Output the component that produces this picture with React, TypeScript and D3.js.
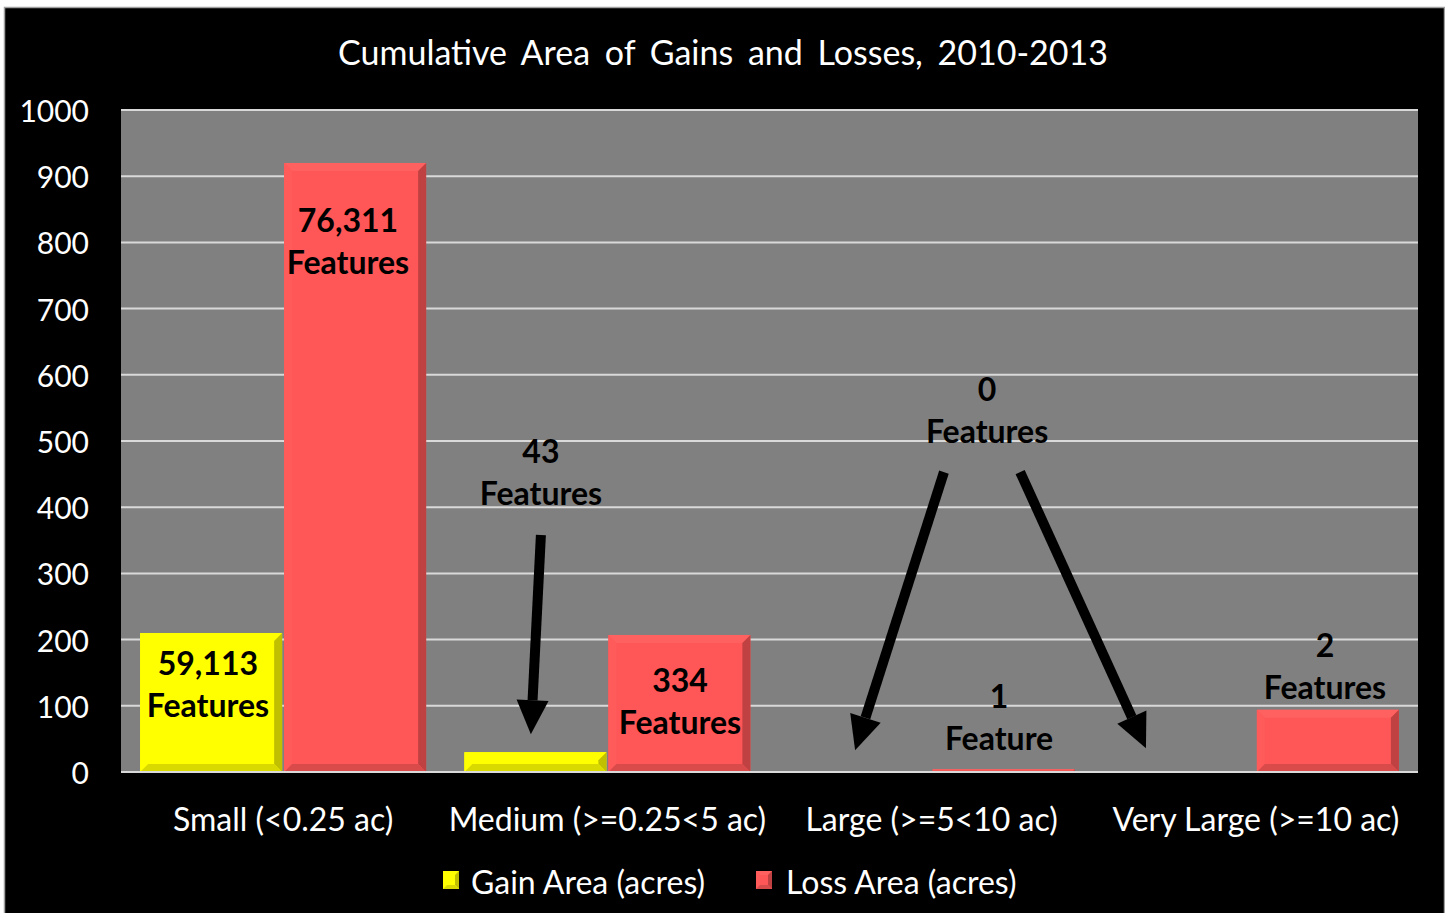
import React from "react";
import * as d3 from "d3";

const categories = ["Small (<0.25 ac)", "Medium (>=0.25<5 ac)", "Large (>=5<10 ac)", "Very Large (>=10 ac)"];
const gainArea = [210, 30, 0, 0];
const lossArea = [920, 207, 4, 94];
const yTicks = [0, 100, 200, 300, 400, 500, 600, 700, 800, 900, 1000];
const seriesNames = ["Gain Area (acres)", "Loss Area (acres)"];

// annotation labels: [category-index position, value position of first line, line1, line2]
const labelTexts = [
  { at: 0.268, v: 165, l1: "59,113", l2: "Features" },
  { at: 0.7, v: 834, l1: "76,311", l2: "Features" },
  { at: 1.295, v: 485, l1: "43", l2: "Features" },
  { at: 1.724, v: 140, l1: "334", l2: "Features" },
  { at: 2.671, v: 580, l1: "0", l2: "Features" },
  { at: 2.708, v: 116, l1: "1", l2: "Feature" },
  { at: 3.713, v: 192, l1: "2", l2: "Features" },
];
// arrows: from [index, value] to [index, value]
const arrowsFrom = [[1.295, 358], [2.538, 453], [2.773, 453]];
const arrowsTo = [[1.264, 57], [2.264, 33], [3.161, 36]];

const W = 1445, H = 913;
const plot = { left: 121, right: 1418, top: 110, bottom: 772 };
const FONT = "Lato, 'Open Sans', sans-serif";

function bevelBar(x: number, y: number, w: number, h: number, base: string, key: string, bev = 8) {
  if (h <= 0) return null;
  const b = Math.min(bev, h / 2, w / 2);
  const c = d3.color(base)!;
  const light = d3.rgb(c).brighter(0.3).toString();
  const lighter = d3.rgb(c).brighter(0.12).toString();
  const dark = d3.rgb(c).darker(0.8).toString();
  const darkish = d3.rgb(c).darker(0.45).toString();
  return (
    <g key={key}>
      <rect x={x} y={y} width={w} height={h} fill={base} />
      <polygon points={`${x},${y} ${x + w},${y} ${x + w - b},${y + b} ${x + b},${y + b}`} fill={light} />
      <polygon points={`${x},${y} ${x + b},${y + b} ${x + b},${y + h - b} ${x},${y + h}`} fill={lighter} />
      <polygon points={`${x + w},${y} ${x + w},${y + h} ${x + w - b},${y + h - b} ${x + w - b},${y + b}`} fill={dark} />
      <polygon points={`${x},${y + h} ${x + w},${y + h} ${x + w - b},${y + h - b} ${x + b},${y + h - b}`} fill={darkish} />
    </g>
  );
}

export default function App() {
  const y = d3.scaleLinear().domain([0, 1000]).range([plot.bottom, plot.top]);
  const xc = d3.scaleBand<string>().domain(categories).range([plot.left, plot.right]).paddingInner(0).paddingOuter(0);
  const xi = d3.scaleLinear().domain([0, 4]).range([plot.left, plot.right]);
  const bw = xc.bandwidth();
  const barW = 142;
  const gap = 2;
  const off = (bw - 2 * barW - gap) / 2;
  const gainCol = "#ffff00";
  const lossCol = "#ff5757";

  return (
    <svg width={W} height={H} style={{ position: "absolute", left: 0, top: 0, display: "block" }}>
      <rect x={0} y={0} width={W} height={H} fill="#ffffff" />
      <rect x={4.5} y={7.5} width={W - 5} height={H} fill="#000000" stroke="#a0a0a0" strokeWidth={1.5} />
      <text x={723} y={51} fill="#fff" fontFamily={FONT} fontSize={34} textAnchor="middle" dominantBaseline="central" wordSpacing={6}>
        Cumulative Area of Gains and Losses, 2010-2013
      </text>
      <rect x={plot.left} y={plot.top} width={plot.right - plot.left} height={plot.bottom - plot.top} fill="#808080" />
      {yTicks.map((t) => (
        <g key={t}>
          <line x1={plot.left} x2={plot.right} y1={y(t)} y2={y(t)} stroke="#d9d9d9" strokeWidth={2} />
          <text x={89} y={y(t)} fill="#fff" fontFamily={FONT} fontSize={30} textAnchor="end" dominantBaseline="central">
            {t}
          </text>
        </g>
      ))}
      {categories.map((c, i) => {
        const x0 = xc(c)!;
        return (
          <g key={c}>
            {bevelBar(x0 + off, y(gainArea[i]), barW, y(0) - y(gainArea[i]), gainCol, "g" + i)}
            {bevelBar(x0 + off + barW + gap, y(lossArea[i]), barW, y(0) - y(lossArea[i]), lossCol, "l" + i)}
            <text x={x0 + bw / 2} y={818} fill="#fff" fontFamily={FONT} fontSize={32} textAnchor="middle" dominantBaseline="central">
              {c}
            </text>
          </g>
        );
      })}
      <line x1={plot.left} x2={plot.right} y1={y(0)} y2={y(0)} stroke="#d9d9d9" strokeWidth={2} />
      {arrowsFrom.map((f, i) => {
        const t = arrowsTo[i];
        const x1 = xi(f[0]), y1 = y(f[1]), x2 = xi(t[0]), y2 = y(t[1]);
        const ang = Math.atan2(y2 - y1, x2 - x1);
        const hl = 34, hw = 16;
        const bx = x2 - hl * Math.cos(ang), by = y2 - hl * Math.sin(ang);
        const px = -Math.sin(ang), py = Math.cos(ang);
        return (
          <g key={"a" + i}>
            <line x1={x1} y1={y1} x2={bx} y2={by} stroke="#000" strokeWidth={10} />
            <polygon points={`${x2},${y2} ${bx + px * hw},${by + py * hw} ${bx - px * hw},${by - py * hw}`} fill="#000" />
          </g>
        );
      })}
      {labelTexts.map((l, i) => (
        <g key={"t" + i} fontFamily={FONT} fontSize={32} fontWeight="bold" fill="#000" textAnchor="middle">
          <text x={xi(l.at)} y={y(l.v)} dominantBaseline="central">{l.l1}</text>
          <text x={xi(l.at)} y={y(l.v) + 42} dominantBaseline="central">{l.l2}</text>
        </g>
      ))}
      <g fontFamily={FONT} fontSize={32} fill="#fff">
        {bevelBar(443, 871, 16, 18, gainCol, "lg0", 4)}
        <text x={471} y={881} dominantBaseline="central">{seriesNames[0]}</text>
        {bevelBar(756, 871, 16, 18, lossCol, "lg1", 4)}
        <text x={786} y={881} dominantBaseline="central">{seriesNames[1]}</text>
      </g>
    </svg>
  );
}
